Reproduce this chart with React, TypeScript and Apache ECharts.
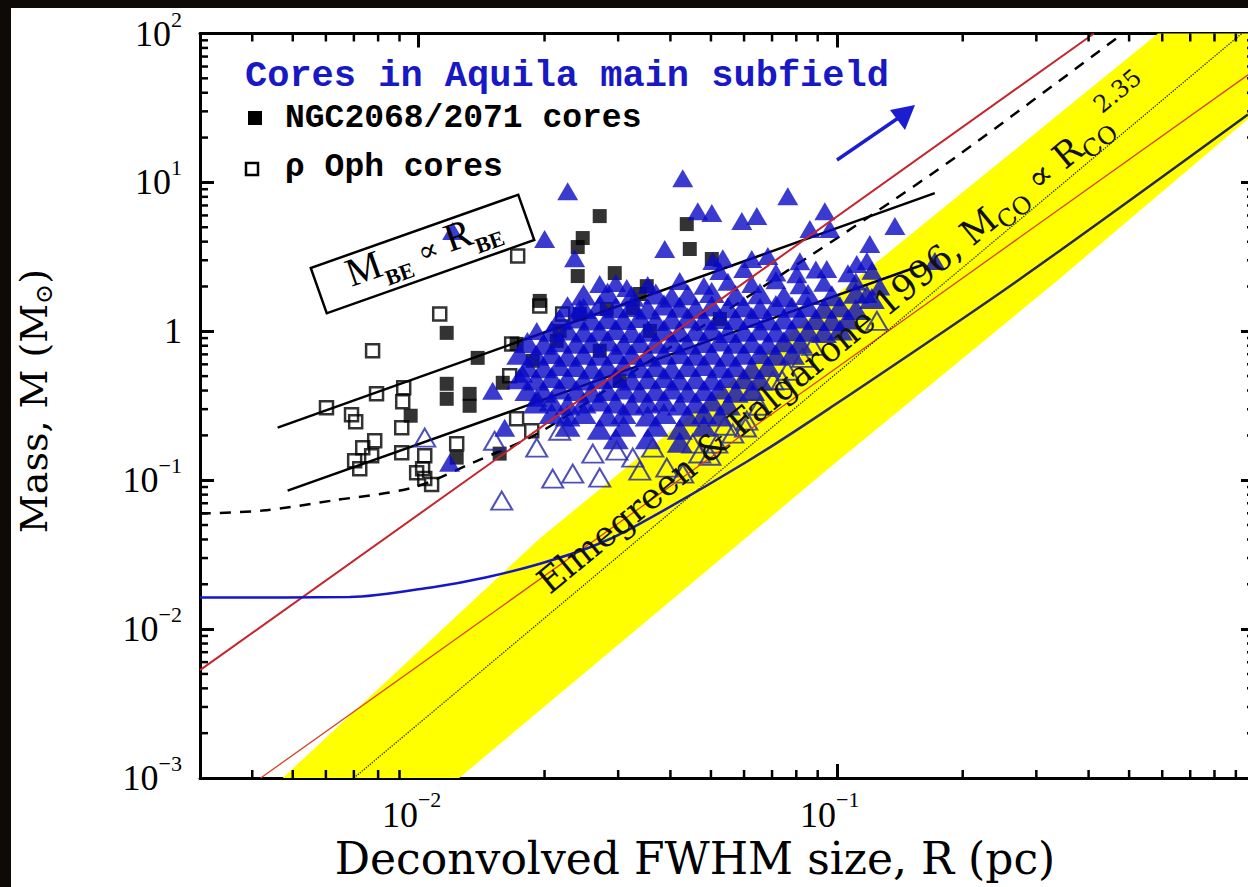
import React, { useEffect, useRef } from 'react';
import * as echarts from 'echarts';

// ---------- axes ----------
const X_MIN = 0.003;
const X_MAX = 1;
const Y_MIN = 0.001;
const Y_MAX = 100;
const X_MINOR = [0.004, 0.005, 0.006, 0.007, 0.008, 0.009, 0.02, 0.03, 0.04, 0.05, 0.06, 0.07, 0.08, 0.09, 0.2, 0.3, 0.4, 0.5, 0.6, 0.7, 0.8, 0.9];
const Y_MINOR = [0.002, 0.003, 0.004, 0.005, 0.006, 0.007, 0.008, 0.009, 0.02, 0.03, 0.04, 0.05, 0.06, 0.07, 0.08, 0.09, 0.2, 0.3, 0.4, 0.5, 0.6, 0.7, 0.8, 0.9, 2, 3, 4, 5, 6, 7, 8, 9, 20, 30, 40, 50, 60, 70, 80, 90];

// ---------- texts ----------
const TITLE = 'Cores in Aquila main subfield';
const LEGEND_NGC = 'NGC2068/2071 cores';
const LEGEND_OPH = 'ρ Oph cores';
const X_TITLE = 'Deconvolved FWHM size, R (pc)';

// ---------- reference lines / curves  [R (pc), M (Msun)] ----------
const bandUpperEdge = [[0.00473, 0.001], [0.0195, 0.0407], [0.1016, 1.83], [0.586, 100]];
const bandLowerEdge = [[0.0125, 0.001], [0.0962, 0.1215], [0.336, 2.18], [1, 29.2]];
const redLineA = [[0.003, 0.0053], [0.412, 100]];
const redLineB = [[0.00419, 0.001], [1, 57]];
const dottedCO = [[0.007, 0.001], [0.93, 100]];
const beUpper = [[0.0046, 0.2255], [0.1715, 8.47]];
const beLower = [[0.00486, 0.0851], [0.1625, 2.83]];
const dashedCurve = [[0.003, 0.0597], [0.00423, 0.0625], [0.00622, 0.073], [0.00967, 0.0891], [0.01346, 0.131], [0.0195, 0.21], [0.0357, 0.634], [0.0876, 3.3], [0.118, 5.75], [0.197, 15.5], [0.483, 100]];
const blueCurve = [[0.003, 0.0163], [0.00684, 0.0164], [0.0109, 0.0192], [0.01445, 0.0222], [0.0195, 0.0275], [0.0261, 0.036], [0.0325, 0.048], [0.0609, 0.133], [0.0962, 0.305], [0.27, 2.18], [0.962, 28.6]];

// ---------- cores ----------
const ophCores = [[0.00776, 0.739], [0.00602, 0.3066], [0.00691, 0.2753], [0.00707, 0.247], [0.00793, 0.38], [0.00921, 0.4175], [0.00916, 0.336], [0.00911, 0.2253], [0.00785, 0.184], [0.00735, 0.1654], [0.00703, 0.1353], [0.00911, 0.1531], [0.01034, 0.1462], [0.01022, 0.1196], [0.01034, 0.1025], [0.01074, 0.0934], [0.01233, 0.1759], [0.01669, 0.823], [0.01715, 0.2588], [0.01864, 0.215], [0.01123, 1.308], [0.01948, 1.48], [0.01725, 3.2], [0.0221, 1.308], [0.00723, 0.1196], [0.00772, 0.1462], [0.00989, 0.1124], [0.01651, 0.5025]];

const ngcCores = [[0.0271, 5.94], [0.02468, 4.23], [0.02401, 3.68], [0.02401, 2.35], [0.02944, 2.46], [0.01167, 0.976], [0.01167, 0.444], [0.01167, 0.352], [0.01324, 0.38], [0.01324, 0.316], [0.01384, 0.663], [0.01589, 0.451], [0.01874, 0.634], [0.01715, 0.823], [0.00957, 0.271], [0.04377, 5.25], [0.0445, 3.57], [0.05024, 3.06], [0.03512, 2.01], [0.03251, 1.435], [0.01233, 0.1418], [0.01562, 0.1508], [0.01948, 1.6], [0.02174, 1.006], [0.0271, 0.74], [0.03573, 1.006], [0.05251, 1.211], [0.03026, 0.466], [0.02138, 0.862], [0.02428, 1.308], [0.02817, 1.413], [0.03379, 1.781]];

const aquilaIsolated = [[0.01206, 4.71], [0.02001, 4.16], [0.02272, 8.73], [0.0236, 3.1], [0.0271, 2.08], [0.03145, 1.954], [0.03877, 3.57], [0.04281, 10.67], [0.04651, 6.41], [0.05024, 6.22], [0.05927, 5.5], [0.06437, 5.94], [0.05338, 3.1], [0.05051, 2.97], [0.07634, 8.08], [0.08621, 4.86], [0.09361, 6.41], [0.09622, 4.86], [0.1199, 3.85], [0.1377, 5.09], [0.118, 2.97], [0.1116, 2.83], [0.0946, 2.62], [0.0802, 2.42], [0.118, 1.78], [0.1716, 2.97], [0.01503, 0.399], [0.01606, 0.225], [0.01774, 0.518], [0.01916, 0.358], [0.01186, 0.131], [0.01916, 1.006], [0.02428, 1.435]];

const aquilaFringe = [
  [0.0626, 3.06], [0.0684, 3.2], [0.0816, 2.95],
  [0.0525, 2.54], [0.0599, 2.62], [0.0715, 2.48], [0.0891, 2.6], [0.1063, 2.45], [0.1213, 2.55],
  [0.0296, 2.11], [0.0353, 2.05], [0.0421, 2.18], [0.0481, 2.02], [0.0549, 2.15], [0.0626, 2.08], [0.0715, 2.2], [0.0816, 2.04], [0.0931, 2.12], [0.111, 2.16], [0.1267, 2.0],
];

const aquilaUpper = [
  [0.0248, 1.75], [0.0283, 1.8], [0.0323, 1.72], [0.0369, 1.78], [0.0403, 1.7], [0.044, 1.76], [0.0502, 1.82], [0.0573, 1.74], [0.0655, 1.79], [0.0747, 1.71], [0.0853, 1.77], [0.0973, 1.73], [0.111, 1.8], [0.1213, 1.66],
  [0.0227, 1.46], [0.0248, 1.42], [0.0271, 1.49], [0.0296, 1.44], [0.0323, 1.47], [0.0353, 1.41], [0.0386, 1.5], [0.0421, 1.45], [0.046, 1.43], [0.0502, 1.48], [0.0549, 1.44], [0.0599, 1.46], [0.0655, 1.42], [0.0715, 1.49], [0.0781, 1.45], [0.0853, 1.47], [0.0931, 1.43], [0.1017, 1.46], [0.111, 1.4],
  [0.0217, 1.2], [0.0238, 1.23], [0.0259, 1.19], [0.0283, 1.22], [0.0309, 1.2], [0.0338, 1.24], [0.0369, 1.18], [0.0403, 1.21], [0.044, 1.23], [0.0481, 1.19], [0.0525, 1.22], [0.0573, 1.2], [0.0626, 1.24], [0.0684, 1.19], [0.0747, 1.21], [0.0816, 1.23], [0.0891, 1.2], [0.0973, 1.18], [0.1063, 1.21],
];

const aquilaMiddle = [
  [0.0208, 1.0], [0.0227, 1.02], [0.0248, 0.99], [0.0271, 1.01], [0.0296, 1.03], [0.0323, 0.98], [0.0353, 1.0], [0.0386, 1.02], [0.0421, 0.99], [0.046, 1.01], [0.0502, 1.03], [0.0549, 0.98], [0.0599, 1.0], [0.0655, 1.02], [0.0715, 0.99], [0.0781, 1.01], [0.0853, 1.0], [0.0931, 0.98], [0.1017, 1.02],
  [0.0182, 0.84], [0.0199, 0.82], [0.0217, 0.85], [0.0238, 0.83], [0.0259, 0.84], [0.0283, 0.86], [0.0309, 0.82], [0.0338, 0.84], [0.0369, 0.83], [0.0403, 0.85], [0.044, 0.82], [0.0481, 0.84], [0.0525, 0.86], [0.0573, 0.83], [0.0626, 0.84], [0.0684, 0.82], [0.0747, 0.85], [0.0816, 0.83],
  [0.0174, 0.7], [0.0191, 0.69], [0.0208, 0.71], [0.0227, 0.68], [0.0248, 0.7], [0.0271, 0.69], [0.0296, 0.71], [0.0323, 0.7], [0.0353, 0.68], [0.0386, 0.7], [0.0421, 0.71], [0.046, 0.69], [0.0502, 0.7], [0.0549, 0.68], [0.0599, 0.7], [0.0655, 0.71], [0.0715, 0.69], [0.0781, 0.7],
  [0.0182, 0.58], [0.0199, 0.57], [0.0217, 0.59], [0.0238, 0.58], [0.0259, 0.56], [0.0283, 0.58], [0.0309, 0.59], [0.0338, 0.57], [0.0369, 0.58], [0.0403, 0.56], [0.044, 0.58], [0.0481, 0.59], [0.0525, 0.57], [0.0573, 0.58], [0.0626, 0.56], [0.0684, 0.58],
];

const aquilaLower = [
  [0.0174, 0.48], [0.0191, 0.47], [0.0208, 0.49], [0.0227, 0.48], [0.0248, 0.47], [0.0271, 0.48], [0.0296, 0.49], [0.0323, 0.47], [0.0353, 0.48], [0.0386, 0.49], [0.0421, 0.47], [0.046, 0.48], [0.0502, 0.47], [0.0549, 0.49], [0.0599, 0.48], [0.0655, 0.47],
  [0.0182, 0.4], [0.0199, 0.39], [0.0217, 0.41], [0.0238, 0.4], [0.0259, 0.39], [0.0283, 0.4], [0.0309, 0.41], [0.0338, 0.39], [0.0369, 0.4], [0.0403, 0.41], [0.044, 0.39], [0.0481, 0.4], [0.0525, 0.41], [0.0573, 0.39], [0.0626, 0.4],
  [0.0191, 0.33], [0.0208, 0.34], [0.0227, 0.32], [0.0248, 0.33], [0.0271, 0.34], [0.0296, 0.33], [0.0323, 0.32], [0.0353, 0.33], [0.0386, 0.34], [0.0421, 0.32], [0.046, 0.33], [0.0502, 0.34], [0.0549, 0.32],
  [0.0208, 0.28], [0.0227, 0.27], [0.0248, 0.28], [0.0283, 0.27], [0.0309, 0.28], [0.0353, 0.27], [0.0386, 0.28], [0.044, 0.27], [0.0481, 0.28], [0.0525, 0.27],
  [0.0227, 0.23], [0.0271, 0.22], [0.0309, 0.23], [0.0369, 0.23], [0.0421, 0.22], [0.0481, 0.23],
  [0.0296, 0.19], [0.0353, 0.19], [0.0421, 0.18],
];

const aquilaOpen = [[0.0158, 0.073], [0.01034, 0.193], [0.01519, 0.184], [0.01916, 0.1654], [0.02092, 0.1025], [0.02336, 0.1107], [0.0271, 0.1041], [0.02609, 0.1508], [0.02977, 0.158], [0.03251, 0.1418], [0.03629, 0.1654], [0.03922, 0.1215], [0.04281, 0.1107], [0.04523, 0.1759], [0.05164, 0.1759], [0.05639, 0.2053], [0.06091, 0.251], [0.06295, 0.399], [0.07031, 0.466], [0.0762, 0.543], [0.0829, 0.663], [0.0876, 0.798], [0.1247, 1.174], [0.02174, 0.215], [0.03379, 0.116], [0.0497, 0.146], [0.0654, 0.316], [0.0539, 0.232], [0.047, 0.151], [0.0605, 0.226], [0.074, 0.47]];

// ---------- helpers ----------
const SERIF = "'Liberation Serif', 'Times New Roman', serif";
const DSERIF = "'DejaVu Serif', 'DejaVu Sans', serif";
const MONO = "'Liberation Mono', 'Courier New', monospace";

function powLabel(v: number) {
  const e = Math.round(Math.log10(v));
  if (e === 0) return '{b|1}';
  return '{b|10}{s|' + (e < 0 ? '−' : '') + Math.abs(e) + '}';
}

const richX = {
  b: { fontSize: 36, fontFamily: SERIF, color: '#000', lineHeight: 45, verticalAlign: 'bottom' },
  s: { fontSize: 22, fontFamily: SERIF, color: '#000', verticalAlign: 'top' },
};
const richY = {
  b: { fontSize: 36, fontFamily: SERIF, color: '#000', lineHeight: 51, verticalAlign: 'middle' },
  s: { fontSize: 22, fontFamily: SERIF, color: '#000', verticalAlign: 'top' },
};

function makeAxis(pos: string, min: number, max: number, showLabel: boolean, isX: boolean) {
  return {
    type: 'log',
    logBase: 10,
    min,
    max,
    position: pos,
    axisLine: { show: true, onZero: false, lineStyle: { color: '#000', width: 3 } },
    axisTick: { show: true, inside: true, length: 14, lineStyle: { color: '#000', width: 3 } },
    splitLine: { show: false },
    minorTick: { show: false },
    axisLabel: {
      show: showLabel,
      formatter: powLabel,
      rich: isX ? richX : richY,
      margin: isX ? 10 : 18,
      padding: isX ? [0, 14, 0, 0] : 0,
      showMinLabel: isX ? false : true,
      showMaxLabel: isX ? false : true,
    },
  };
}

export default function App() {
  const ref = useRef<HTMLDivElement>(null);

  useEffect(() => {
    document.body.style.margin = '0';
    const chart = echarts.init(ref.current as HTMLDivElement, null, { renderer: 'svg' });

    const bandPolygon = [
      ...bandUpperEdge,
      [X_MAX, Y_MAX],
      ...bandLowerEdge.slice().reverse(),
    ];

    const lineSeries = (data: number[][], color: any, width: number, z: number, type: any = 'solid', smooth: any = false) => ({
      type: 'line',
      data,
      symbol: 'none',
      showSymbol: false,
      smooth,
      silent: true,
      z,
      lineStyle: { color, width, type },
      emphasis: { disabled: true },
    });

    const blueGrad = new echarts.graphic.LinearGradient(0, 0, 1, 0, [
      { offset: 0, color: '#1616c8' },
      { offset: 0.33, color: '#1616c8' },
      { offset: 0.6, color: '#2a2a70' },
      { offset: 1, color: '#262636' },
    ]);

    const tri = (data: number[][], size: number[]) => ({
      type: 'scatter',
      data,
      symbol: 'triangle',
      symbolSize: size,
      silent: true,
      z: 4,
      itemStyle: { color: '#0a0ac4' },
      emphasis: { disabled: true },
    });

    const option: any = {
      animation: false,
      backgroundColor: '#ffffff',
      grid: { left: 189, top: 24, right: 5, bottom: 109, containLabel: false },
      xAxis: [makeAxis('bottom', X_MIN, X_MAX, true, true), makeAxis('top', X_MIN, X_MAX, false, true)],
      yAxis: [makeAxis('left', Y_MIN, Y_MAX, true, false), makeAxis('right', Y_MIN, Y_MAX, false, false)],
      series: [
        {
          type: 'custom',
          coordinateSystem: 'cartesian2d',
          data: [[0.01, 1]],
          silent: true,
          z: 1,
          renderItem: (params: any, api: any) => {
            const pts = bandPolygon.map((p) => api.coord(p));
            return { type: 'polygon', shape: { points: pts }, style: { fill: '#ffff00', stroke: 'none' } };
          },
        },
        lineSeries(beUpper, '#000', 2.5, 2),
        lineSeries(beLower, '#000', 2.5, 2),
        lineSeries(dashedCurve, '#000', 2.5, 2, [11, 9], 0.3),
        {
          type: 'scatter',
          data: ophCores,
          symbol: 'rect',
          symbolSize: 13,
          silent: true,
          z: 3,
          itemStyle: { color: 'rgba(0,0,0,0)', borderColor: '#000', borderWidth: 2.5 },
          emphasis: { disabled: true },
        },
        {
          type: 'scatter',
          data: ngcCores,
          symbol: 'rect',
          symbolSize: 14,
          silent: true,
          z: 3,
          itemStyle: { color: '#000' },
          emphasis: { disabled: true },
        },
        tri([...aquilaIsolated, ...aquilaFringe], [21, 18]),
        tri([...aquilaUpper, ...aquilaMiddle, ...aquilaLower], [26, 21]),
        {
          type: 'scatter',
          data: aquilaOpen,
          symbol: 'triangle',
          symbolSize: [21, 18],
          silent: true,
          z: 5,
          itemStyle: { color: 'rgba(0,0,0,0)', borderColor: '#2424a8', borderWidth: 2 },
          emphasis: { disabled: true },
        },
        lineSeries(redLineA, '#c4262e', 2, 6),
        lineSeries(redLineB, '#d8401e', 1.3, 6),
        lineSeries(dottedCO, '#222', 1.3, 6, 'dotted'),
        lineSeries(blueCurve, blueGrad, 2.5, 6, 'solid', 0.3),
        {
          type: 'custom',
          coordinateSystem: 'cartesian2d',
          data: [[0.01, 1]],
          silent: true,
          z: 10,
          renderItem: (params: any, api: any) => {
            const cs = params.coordSys;
            const left = cs.x, top = cs.y, right = cs.x + cs.width, bottom = cs.y + cs.height;
            const st = { stroke: '#000', lineWidth: 2.5 };
            const ch: any[] = [];
            X_MINOR.forEach((v) => {
              const p = api.coord([v, 1])[0];
              ch.push({ type: 'line', shape: { x1: p, y1: bottom, x2: p, y2: bottom - 8 }, style: st });
              ch.push({ type: 'line', shape: { x1: p, y1: top, x2: p, y2: top + 8 }, style: st });
            });
            Y_MINOR.forEach((v) => {
              const p = api.coord([0.01, v])[1];
              ch.push({ type: 'line', shape: { x1: left, y1: p, x2: left + 8, y2: p }, style: st });
              ch.push({ type: 'line', shape: { x1: right, y1: p, x2: right - 8, y2: p }, style: st });
            });
            return { type: 'group', children: ch };
          },
        },
      ],
      graphic: [
        {
          type: 'text', x: 234, y: 68, z: 100, silent: true,
          style: { text: TITLE, font: `bold 37px ${MONO}`, fill: '#1818c4', align: 'left', verticalAlign: 'middle', textAlign: 'left', textVerticalAlign: 'middle' },
        },
        { type: 'rect', z: 100, silent: true, shape: { x: 237, y: 103, width: 14, height: 14 }, style: { fill: '#000' } },
        {
          type: 'text', x: 274, y: 110, z: 100, silent: true,
          style: { text: LEGEND_NGC, font: `bold 33px ${MONO}`, fill: '#000', align: 'left', verticalAlign: 'middle', textAlign: 'left', textVerticalAlign: 'middle' },
        },
        { type: 'rect', z: 100, silent: true, shape: { x: 235, y: 155, width: 12, height: 12 }, style: { fill: 'none', stroke: '#000', lineWidth: 2.5 } },
        {
          type: 'text', x: 274, y: 159, z: 100, silent: true,
          style: { text: LEGEND_OPH, font: `bold 33px ${MONO}`, fill: '#000', align: 'left', verticalAlign: 'middle', textAlign: 'left', textVerticalAlign: 'middle' },
        },
        {
          type: 'group', x: 411.5, y: 246, rotation: 0.339, z: 100, silent: true,
          children: [
            { type: 'rect', z: 100, shape: { x: -110, y: -24, width: 220, height: 48 }, style: { fill: 'none', stroke: '#000', lineWidth: 2.5 } },
            {
              type: 'text', x: 2, y: -2, z: 100,
              style: {
                text: '{m|M}{sub|BE}{p| ∝ }{m|R}{sub|BE}',
                align: 'center', verticalAlign: 'middle', textAlign: 'center', textVerticalAlign: 'middle',
                rich: {
                  m: { fontSize: 40, fontFamily: SERIF, lineHeight: 48, verticalAlign: 'top', fill: '#000', color: '#000' },
                  sub: { fontSize: 22, fontFamily: SERIF, fontWeight: 'bold', verticalAlign: 'bottom', fill: '#000', color: '#000' },
                  p: { fontSize: 30, fontFamily: DSERIF, verticalAlign: 'middle', fill: '#000', color: '#000' },
                },
              },
            },
          ],
        },
        { type: 'line', z: 100, silent: true, shape: { x1: 826, y1: 152, x2: 896, y2: 104 }, style: { stroke: '#1c1cd0', lineWidth: 3.5 } },
        { type: 'polygon', z: 100, silent: true, shape: { points: [[904, 97], [894, 122], [879, 102]] }, style: { fill: '#1c1cd0' } },
        {
          type: 'text', x: 531, y: 578, rotation: 0.689, z: 100, silent: true,
          style: {
            text: '{n|Elmegreen & Falgarone 1996, M}{sb|CO}{n| ∝ R}{sb|CO}{sp|2.35}',
            align: 'left', verticalAlign: 'middle', textAlign: 'left', textVerticalAlign: 'middle',
            rich: {
              n: { fontSize: 35, fontFamily: DSERIF, lineHeight: 56, verticalAlign: 'middle', fill: '#111', color: '#111' },
              sb: { fontSize: 24, fontFamily: DSERIF, verticalAlign: 'bottom', padding: [0, 0, 4, 0], fill: '#111', color: '#111' },
              sp: { fontSize: 24, fontFamily: DSERIF, verticalAlign: 'top', fill: '#111', color: '#111' },
            },
          },
        },
        {
          type: 'text', x: 684, y: 850, z: 100, silent: true,
          style: { text: X_TITLE, font: `44px ${DSERIF}`, fill: '#000', align: 'center', verticalAlign: 'middle', textAlign: 'center', textVerticalAlign: 'middle' },
        },
        {
          type: 'text', x: 24.5, y: 393, rotation: Math.PI / 2, z: 100, silent: true,
          style: {
            text: '{n|Mass, M (M}{sb|⊙}{n|)}',
            align: 'center', verticalAlign: 'middle', textAlign: 'center', textVerticalAlign: 'middle',
            rich: {
              n: { fontSize: 38, fontFamily: DSERIF, lineHeight: 41, verticalAlign: 'top', fill: '#000', color: '#000' },
              sb: { fontSize: 24, fontFamily: DSERIF, verticalAlign: 'bottom', fill: '#000', color: '#000' },
            },
          },
        },
      ],
    };

    chart.setOption(option);
    return () => chart.dispose();
  }, []);

  return (
    <div style={{ position: 'fixed', left: 0, top: 0, width: 1248, height: 887, overflow: 'hidden', background: '#0e0a08' }}>
      <div ref={ref} style={{ position: 'absolute', left: 11, top: 8, width: 1249, height: 879, background: '#fff' }} />
    </div>
  );
}
